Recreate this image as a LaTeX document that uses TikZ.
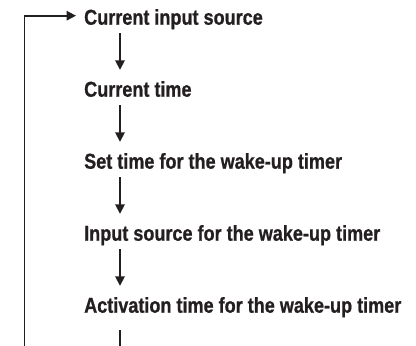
\documentclass[tikz,border=0pt]{standalone}
\usepackage{fontspec}
\usetikzlibrary{arrows.meta}
\newfontfamily\menufont{Liberation Sans}[FakeStretch=0.84, BoldFeatures={FakeBold=0.8}]
\definecolor{ink}{HTML}{231F20}
\tikzset{
  menuitem/.style={anchor=base west, inner sep=0pt, text height=15pt, text depth=5pt,
                   font=\menufont\bfseries\fontsize{21.5}{25}\selectfont, text=ink},
  flowline/.style={draw=ink, line width=1.7pt},
  flowarrow/.style={flowline, -{Triangle[length=9.5pt,width=9.5pt]}},
}

\begin{document}
\begin{tikzpicture}[x=1pt,y=-1pt]
    \useasboundingbox (0,0) rectangle (416,346);
    \node[menuitem] (m0) at (84, 24.7) {Current input source};
    \node[menuitem] (m1) at (84, 96.7) {Current time};
    \node[menuitem] (m2) at (84, 168.7) {Set time for the wake-up timer};
    \node[menuitem] (m3) at (84, 240.7) {Input source for the wake-up timer};
    \node[menuitem] (m4) at (84, 312.7) {Activation time for the wake-up timer};
    \coordinate (loopend) at (24.5, 346);
    \coordinate (stubend) at (120, 346);
    \draw[flowarrow, shorten <=3.3pt, shorten >=11.7pt] ([xshift=36pt]m0.south west) -- ([xshift=36pt]m1.north west);
    \draw[flowarrow, shorten <=3.3pt, shorten >=11.7pt] ([xshift=36pt]m1.south west) -- ([xshift=36pt]m2.north west);
    \draw[flowarrow, shorten <=3.3pt, shorten >=11.7pt] ([xshift=36pt]m2.south west) -- ([xshift=36pt]m3.north west);
    \draw[flowarrow, shorten <=3.3pt, shorten >=11.7pt] ([xshift=36pt]m3.south west) -- ([xshift=36pt]m4.north west);
    \draw[flowline, shorten <=12.3pt] ([xshift=36pt]m4.south west) -- (stubend);
    \draw[flowarrow, shorten >=8pt] (loopend) |- ([yshift=4pt]m0.west);
  \end{tikzpicture}
\end{document}
